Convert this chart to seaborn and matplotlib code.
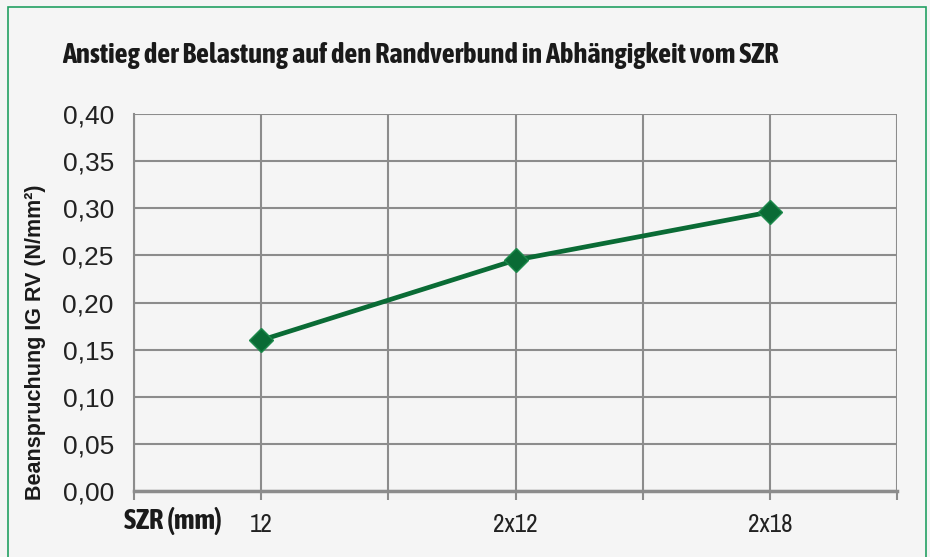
import matplotlib
matplotlib.use("Agg")
import matplotlib.pyplot as plt
import matplotlib.patheffects as pe
import pandas as pd
import seaborn as sns
from matplotlib import font_manager
from matplotlib.patches import Rectangle

# data
szr_labels = ["12", "2x12", "2x18"]
beanspruchung = [0.160, 0.245, 0.296]
y_ticks = [0.00, 0.05, 0.10, 0.15, 0.20, 0.25, 0.30, 0.35, 0.40]

BG = "#f5f5f5"
GRID = "#8c8c8c"
LINE = "#0a6b35"
BORDER = "#24a063"
TEXT = "#1a1a1a"
SANS = ["Liberation Sans", "DejaVu Sans"]


def _weight(f):
    w = f.weight
    return w if isinstance(w, int) else font_manager.weight_dict.get(w, 400)


# the reference uses a condensed face; take one if the machine has it
narrow = [f for f in font_manager.fontManager.ttflist
          if "narrow" in f.name.lower() or "condensed" in f.name.lower()]
narrow_bold = sorted({f.name for f in narrow if _weight(f) >= 600})
narrow_any = sorted({f.name for f in narrow})
NARROW = [narrow_any[0], "DejaVu Sans"] if narrow_any else SANS
NARROW_B = [narrow_bold[0], "DejaVu Sans"] if narrow_bold else NARROW
# no bold cut of the narrow face: thicken the regular one with a stroke
FAKE_BOLD = [] if narrow_bold else [pe.withStroke(linewidth=0.9, foreground=TEXT)]

sns.set_theme(style="white")
plt.rcParams["font.family"] = SANS

df = pd.DataFrame({"szr": szr_labels, "wert": beanspruchung})

fig = plt.figure(figsize=(9.3, 5.57), dpi=100, facecolor=BG)
fig.patches.append(Rectangle((8 / 930, -0.01), 918 / 930, 1 - 7 / 557 + 0.01,
                             transform=fig.transFigure, fill=False,
                             edgecolor=BORDER, linewidth=1.2))
ax = fig.add_axes([134 / 930, 66 / 557, 763 / 930, 377 / 557])
ax.set_facecolor(BG)

sns.lineplot(data=df, x="szr", y="wert", ax=ax, color=LINE, linewidth=3.4,
             marker="D", markersize=12, markerfacecolor=LINE,
             markeredgecolor="#1d8a4c", markeredgewidth=1.0, zorder=5)

ax.set_xlim(-0.5, len(szr_labels) - 0.5)
ax.set_ylim(0, 0.40)
ax.set_yticks(y_ticks)
ax.set_yticklabels([f"{v:.2f}".replace(".", ",") for v in y_ticks])
ax.set_xticks(range(len(szr_labels)))
ax.set_xticklabels(szr_labels)
ax.set_xticks([i - 0.5 for i in range(len(szr_labels) + 1)], minor=True)

ax.grid(True, which="both", color=GRID, linewidth=1.5)
ax.set_axisbelow(True)
for side in ["top", "right"]:
    ax.spines[side].set_visible(False)
ax.spines["left"].set_color(GRID)
ax.spines["left"].set_linewidth(1.5)
ax.spines["bottom"].set_color(GRID)
ax.spines["bottom"].set_linewidth(2.5)

ax.tick_params(axis="y", which="both", length=6.5, width=1.5, color=GRID,
               pad=8, labelsize=19, labelcolor="#222222")
ax.tick_params(axis="x", which="both", length=6.5, width=1.5, color=GRID,
               pad=9, labelsize=18, labelcolor="#222222", bottom=True)
for lbl in ax.get_xticklabels():
    lbl.set_family(NARROW)

ax.set_xlabel("")
ax.set_ylabel("")

fig.text(62 / 930, 1 - 63 / 557,
         "Anstieg der Belastung auf den Randverbund in Abhängigkeit vom SZR",
         family=NARROW_B, fontsize=20.5, fontweight="bold",
         color=TEXT, ha="left", va="baseline", path_effects=FAKE_BOLD)
fig.text(35 / 930, 1 - 342 / 557, "Beanspruchung IG RV (N/mm²)",
         family=SANS, fontsize=15.5, fontweight="bold", color=TEXT,
         rotation=90, ha="center", va="center")
fig.text(124 / 930, 1 - 521 / 557, "SZR (mm)", family=NARROW_B,
         fontsize=20.5, fontweight="bold", color=TEXT, ha="left", va="center",
         path_effects=FAKE_BOLD)

fig.savefig("out.png", dpi=100, facecolor=BG)
